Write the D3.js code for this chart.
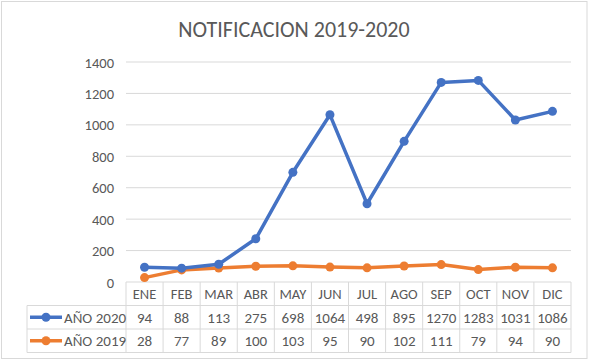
<!DOCTYPE html>
<html>
<head>
<meta charset="utf-8">
<script src="https://cdn.jsdelivr.net/npm/d3@7"></script>
<style>
  body { margin: 0; background: #fff; }
  #chart { width: 589px; height: 362px; }
</style>
</head>
<body>
<div id="chart"></div>
<script>
const months = ["ENE", "FEB", "MAR", "ABR", "MAY", "JUN", "JUL", "AGO", "SEP", "OCT", "NOV", "DIC"];
const values2020 = [94, 88, 113, 275, 698, 1064, 498, 895, 1270, 1283, 1031, 1086];
const values2019 = [28, 77, 89, 100, 103, 95, 90, 102, 111, 79, 94, 90];
const yTicks = [0, 200, 400, 600, 800, 1000, 1200, 1400];
const seriesNames = ["AÑO 2020", "AÑO 2019"];
const seriesColors = ["#4472C4", "#ED7D31"];

const series = [
    { name: seriesNames[0], values: values2020, color: seriesColors[0] },
    { name: seriesNames[1], values: values2019, color: seriesColors[1] },
];

const width = 589, height = 362;
const font = "Carlito, Calibri, 'Liberation Sans Narrow', 'Liberation Sans', sans-serif";
const textColor = "#595959";
const gridColor = "#d9d9d9";

const plot = { left: 126, right: 571, top: 62, bottom: 282 };
const rowH = 23.5;
const legendLeft = 27;

const svg = d3.select("#chart").append("svg")
    .attr("width", width)
    .attr("height", height)
    .attr("font-family", font);

// chart area border
svg.append("rect")
    .attr("x", 1.5).attr("y", 1.5)
    .attr("width", width - 3.5).attr("height", 357)
    .attr("fill", "#fff")
    .attr("stroke", "#d9d9d9");

svg.append("text")
    .attr("x", 294).attr("y", 37)
    .attr("text-anchor", "middle")
    .attr("font-size", 22)
    .attr("fill", textColor)
    .text("NOTIFICACION 2019-2020");

const x = d3.scaleBand().domain(months).range([plot.left, plot.right]);
const y = d3.scaleLinear().domain([0, 1400]).range([plot.bottom, plot.top]);

// gridlines
svg.append("g")
    .selectAll("line")
    .data(yTicks.filter(t => t > 0))
    .join("line")
    .attr("x1", plot.left).attr("x2", plot.right)
    .attr("y1", d => y(d)).attr("y2", d => y(d))
    .attr("stroke", gridColor)
    .attr("stroke-width", 1);

// y axis labels
const yAxis = svg.append("g")
    .attr("transform", `translate(${plot.left - 12},0)`)
    .call(d3.axisLeft(y).tickValues(yTicks).tickFormat(d3.format("d")).tickSize(0).tickPadding(0));
yAxis.select(".domain").remove();
yAxis.selectAll("text")
    .attr("font-family", font)
    .attr("font-size", 14.5)
    .attr("fill", textColor)
    .attr("dy", "0.35em");

// data table grid
const tableG = svg.append("g").attr("stroke", gridColor).attr("fill", "none");
const rowTops = [plot.bottom, plot.bottom + rowH, plot.bottom + 2 * rowH, plot.bottom + 3 * rowH];
tableG.append("line")
    .attr("x1", plot.left).attr("x2", plot.right)
    .attr("y1", rowTops[0]).attr("y2", rowTops[0]);
rowTops.slice(1).forEach(ry => {
    tableG.append("line")
        .attr("x1", legendLeft).attr("x2", plot.right)
        .attr("y1", ry).attr("y2", ry);
});
tableG.append("line")
    .attr("x1", legendLeft).attr("x2", legendLeft)
    .attr("y1", rowTops[1]).attr("y2", rowTops[3]);
tableG.selectAll("line.col")
    .data(months.concat(["end"]))
    .join("line")
    .attr("class", "col")
    .attr("x1", (d, i) => plot.left + i * x.bandwidth())
    .attr("x2", (d, i) => plot.left + i * x.bandwidth())
    .attr("y1", rowTops[0]).attr("y2", rowTops[3]);

// month headers
svg.append("g")
    .selectAll("text")
    .data(months)
    .join("text")
    .attr("x", d => x(d) + x.bandwidth() / 2)
    .attr("y", rowTops[0] + rowH / 2)
    .attr("dy", "0.35em")
    .attr("text-anchor", "middle")
    .attr("font-size", 14.5)
    .attr("fill", textColor)
    .text(d => d);

// series rows
series.forEach((s, si) => {
    const cy = rowTops[si + 1] + rowH / 2;
    const row = svg.append("g");
    row.selectAll("text.val")
        .data(s.values)
        .join("text")
        .attr("class", "val")
        .attr("x", (d, i) => x(months[i]) + x.bandwidth() / 2)
        .attr("y", cy)
        .attr("dy", "0.35em")
        .attr("text-anchor", "middle")
        .attr("font-size", 15)
        .attr("fill", textColor)
        .text(d => d);
    // legend key
    row.append("line")
        .attr("x1", 30).attr("x2", 62)
        .attr("y1", cy).attr("y2", cy)
        .attr("stroke", s.color)
        .attr("stroke-width", 3.5);
    row.append("circle")
        .attr("cx", 46).attr("cy", cy).attr("r", 4.5)
        .attr("fill", s.color);
    row.append("text")
        .attr("x", 64).attr("y", cy)
        .attr("dy", "0.35em")
        .attr("font-size", 15)
        .attr("fill", textColor)
        .text(s.name);
});

// lines
const line = d3.line()
    .x((d, i) => x(months[i]) + x.bandwidth() / 2)
    .y(d => y(d));

series.slice().reverse().forEach(s => {
    svg.append("path")
        .datum(s.values)
        .attr("d", line)
        .attr("fill", "none")
        .attr("stroke", s.color)
        .attr("stroke-width", 3.5)
        .attr("stroke-linejoin", "round");
    svg.append("g")
        .selectAll("circle")
        .data(s.values)
        .join("circle")
        .attr("cx", (d, i) => x(months[i]) + x.bandwidth() / 2)
        .attr("cy", d => y(d))
        .attr("r", 4.5)
        .attr("fill", s.color);
});
</script>
</body>
</html>
